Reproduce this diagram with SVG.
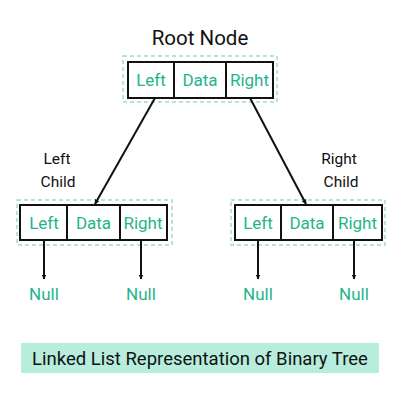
<svg xmlns="http://www.w3.org/2000/svg" width="400" height="400" viewBox="0 0 400 400">
<style>
.bg{fill:#fff}
.outer{fill:none;stroke:#9fdcc9;stroke-width:1.5;stroke-dasharray:4 3}
.cell{fill:#fff;stroke:#111;stroke-width:2}
.lbl{font-family:Roboto,"Liberation Sans",sans-serif;font-size:17px;fill:#1fb48c;text-anchor:middle}
.blk{font-family:Roboto,"Liberation Sans",sans-serif;fill:#111;text-anchor:middle}
.conn{stroke:#111;stroke-width:2;fill:none}
</style>
<defs>
<marker id="ah" viewBox="0 0 10 10" refX="9" refY="5" markerWidth="5" markerHeight="5" orient="auto-start-reverse" markerUnits="userSpaceOnUse">
<path d="M0,0 L10,5 L0,10 z" fill="#111"/>
</marker>
</defs>
<rect class="bg" width="400" height="400"/>
<text class="blk" x="200" y="45" font-size="20.5">Root Node</text>
<g id="root">
<rect class="outer" x="123" y="56" width="154" height="46"/>
<rect class="cell" x="128" y="62" width="145" height="36"/>
<line class="cell" x1="174" y1="62" x2="174" y2="98"/>
<line class="cell" x1="226" y1="62" x2="226" y2="98"/>
<text class="lbl" x="151" y="86">Left</text>
<text class="lbl" x="200" y="86">Data</text>
<text class="lbl" x="249.5" y="86">Right</text>
</g>
<g id="leftchild">
<rect class="outer" x="17" y="200" width="155" height="45"/>
<rect class="cell" x="20" y="205" width="147" height="35"/>
<line class="cell" x1="67" y1="205" x2="67" y2="240"/>
<line class="cell" x1="120" y1="205" x2="120" y2="240"/>
<text class="lbl" x="44" y="229">Left</text>
<text class="lbl" x="93.5" y="229">Data</text>
<text class="lbl" x="143" y="229">Right</text>
</g>
<g id="rightchild">
<rect class="outer" x="231" y="200" width="154" height="45"/>
<rect class="cell" x="235" y="205" width="147" height="35"/>
<line class="cell" x1="281" y1="205" x2="281" y2="240"/>
<line class="cell" x1="333" y1="205" x2="333" y2="240"/>
<text class="lbl" x="258" y="229">Left</text>
<text class="lbl" x="307" y="229">Data</text>
<text class="lbl" x="357.5" y="229">Right</text>
</g>
<g id="labels">
<text class="blk" x="57" y="164" font-size="15.5">Left</text>
<text class="blk" x="58" y="187" font-size="15.5">Child</text>
<text class="blk" x="339" y="164" font-size="15.5">Right</text>
<text class="blk" x="341" y="187" font-size="15.5">Child</text>
</g>
<g id="connectors">
<line class="conn" x1="155" y1="98" x2="95" y2="204" marker-end="url(#ah)"/>
<line class="conn" x1="250" y1="98" x2="306" y2="204" marker-end="url(#ah)"/>
<line class="conn" x1="44" y1="240" x2="44" y2="279" marker-end="url(#ah)"/>
<line class="conn" x1="141" y1="240" x2="141" y2="279" marker-end="url(#ah)"/>
<line class="conn" x1="258" y1="240" x2="258" y2="279" marker-end="url(#ah)"/>
<line class="conn" x1="354" y1="240" x2="354" y2="279" marker-end="url(#ah)"/>
</g>
<g id="nulls">
<text class="lbl" x="44" y="300">Null</text>
<text class="lbl" x="141" y="300">Null</text>
<text class="lbl" x="258" y="300">Null</text>
<text class="lbl" x="354" y="300">Null</text>
</g>
<g id="caption">
<rect x="21" y="343" width="358" height="30" fill="#b6eddc"/>
<text class="blk" x="200" y="365" font-size="18.5">Linked List Representation of Binary Tree</text>
</g>
</svg>
